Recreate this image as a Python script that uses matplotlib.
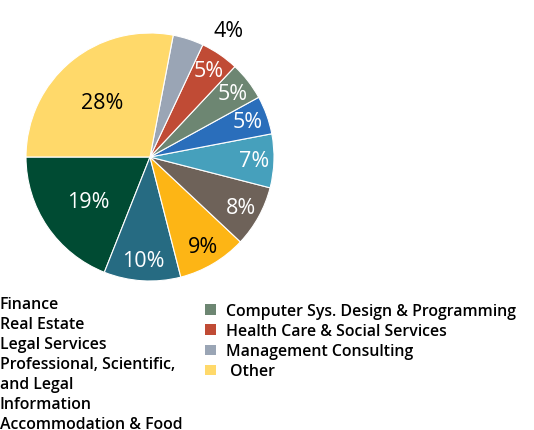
import matplotlib
matplotlib.use("Agg")
import matplotlib.pyplot as plt
from matplotlib.patches import Patch
import numpy as np

categories = ["Finance", "Real Estate", "Legal Services",
              "Professional, Scientific,\nand Legal", "Information",
              "Accommodation & Food", "Computer Sys. Design & Programming",
              "Health Care & Social Services", "Management Consulting", " Other"]
values = [19, 10, 9, 8, 7, 5, 5, 5, 4, 28]
colors = ["#004B33", "#266B82", "#FDB515", "#6E6259", "#46A0BC",
          "#2A6EBB", "#6D8672", "#C04B35", "#9AA5B5", "#FFD96A"]
label_colors = ["white", "white", "black", "white", "white",
                "white", "white", "white", "black", "black"]

plt.rcParams['font.family'] = ['Open Sans', 'DejaVu Sans']

fig = plt.figure(figsize=(5.34, 4.31), dpi=100)
W, H = 534, 431
cx, cy, R = 150, 158, 124
ax = fig.add_axes([(cx - R) / W, (H - cy - R) / H, 2 * R / W, 2 * R / H])

wedges, _ = ax.pie(values, colors=colors, startangle=180, counterclock=True,
                   radius=1, wedgeprops=dict(edgecolor="white", linewidth=0.8))
ax.set_xlim(-1, 1)
ax.set_ylim(-1, 1)
ax.set_aspect("equal")
ax.axis("off")

for i, (w, v) in enumerate(zip(wedges, values)):
    ang = np.deg2rad((w.theta1 + w.theta2) / 2)
    if v >= 15:
        d = 0.6
        x, y = d * np.cos(ang), d * np.sin(ang) - 0.02
    elif v == 4:
        x, y = 0.63, 1.02
    else:
        d = 0.84
        x, y = d * np.cos(ang), d * np.sin(ang)
    ax.text(x, y, f"{v}%", ha="center", va="center", fontsize=15.5,
            color=label_colors[i], fontweight="normal", clip_on=False,
            family=['Open Sans', 'DejaVu Sans'])

handles = [Patch(facecolor=c, edgecolor="none") for c in colors]
leg_kw = dict(frameon=False, handlelength=0.72, handleheight=0.62,
              handletextpad=0.6, borderpad=0, borderaxespad=0, labelspacing=0.26,
              prop=dict(family=['Open Sans', 'DejaVu Sans'], weight='semibold', size=11.4))
leg1 = fig.legend(handles[:6], categories[:6], loc="upper left",
                  bbox_to_anchor=(-21 / W, 1 - 297 / H), **leg_kw)
for t in leg1.get_texts():
    t.set_linespacing(1.27)
leg2 = fig.legend(handles[6:], categories[6:], loc="upper left",
                  bbox_to_anchor=(205 / W, 1 - 304 / H), **leg_kw)

fig.savefig("out.png", dpi=100)
